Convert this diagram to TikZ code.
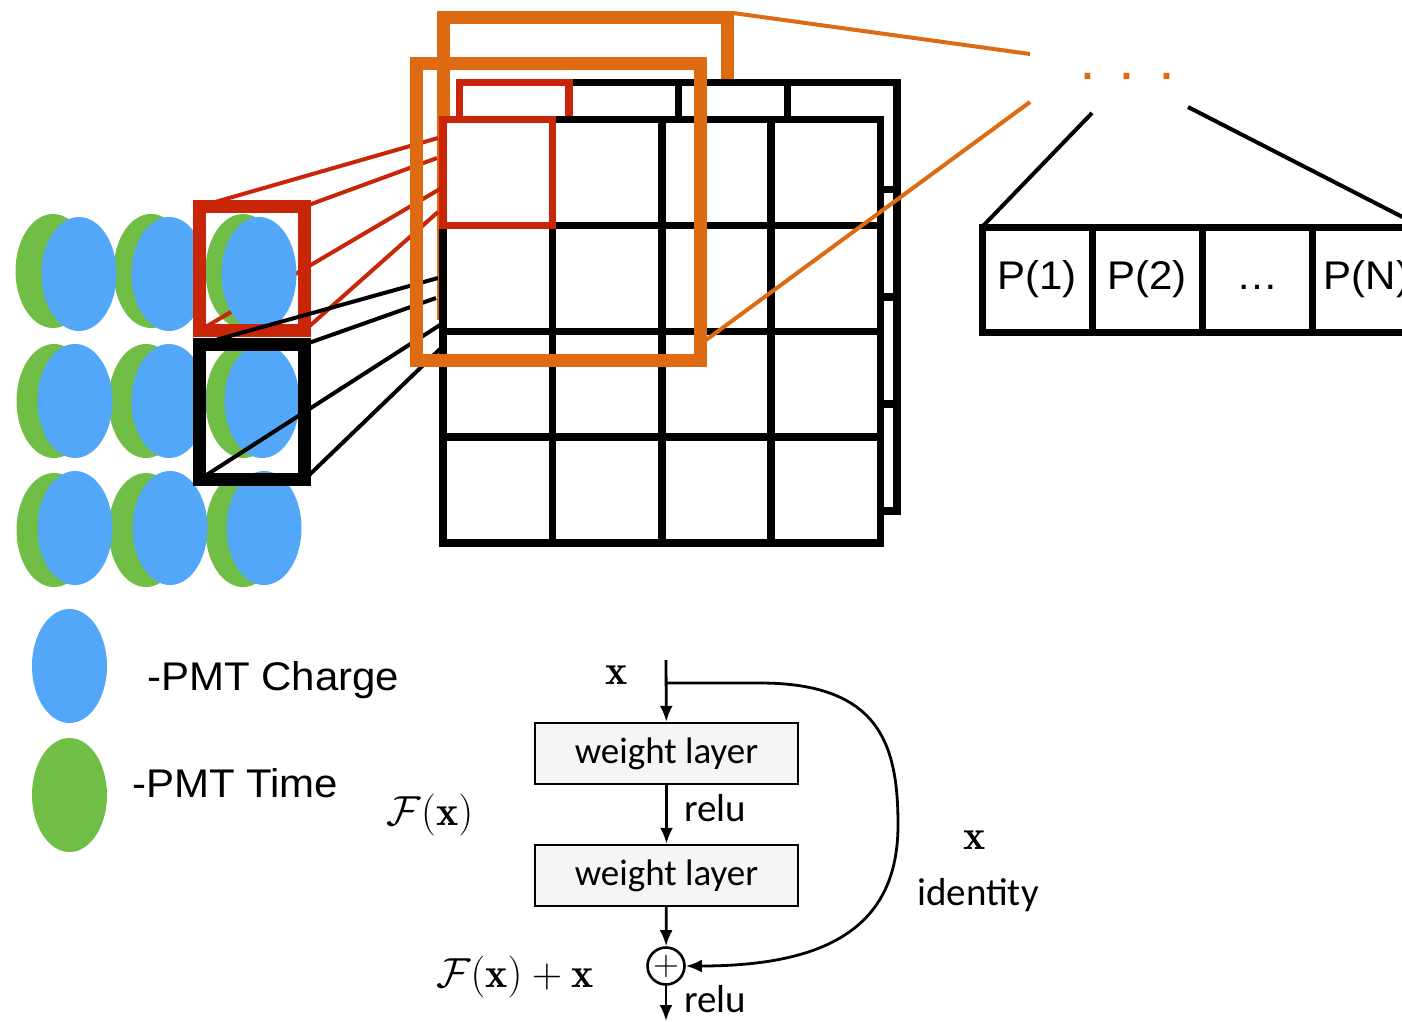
\RequirePackage{fix-cm}
\documentclass[tikz,border=0pt]{standalone}
\usepackage{fontspec}
\newfontfamily\helv{Liberation Sans}[FakeStretch=1.05]
\newfontfamily\cali{Carlito}
\usetikzlibrary{shapes,arrows}
\usetikzlibrary{arrows.meta}
\usetikzlibrary{positioning}
\definecolor{pmtblue}{RGB}{82,167,248}
\definecolor{pmtgreen}{RGB}{112,190,69}
\definecolor{cellred}{RGB}{200,37,9}
\definecolor{zoomorange}{RGB}{222,107,18}
\tikzstyle{line} = [draw, line width=2.8pt, -{Latex[length=16pt,width=13pt]}]
\tikzstyle{ray} = [draw, line width=4pt]
\tikzstyle{fmap} = [draw, line width=7.5pt]
\tikzstyle{zoombox} = [draw=zoomorange, line width=13pt]
\tikzstyle{inbox} = [line width=13pt]
\tikzstyle{prob} = [draw, line width=7pt, minimum width=110pt, minimum height=105pt, outer sep=0pt, font=\helv\fontsize{40}{48}\selectfont]
\tikzstyle{wlayer} = [draw, line width=2.4pt, fill=gray!8, minimum width=263pt, minimum height=61pt, font=\cali\fontsize{37}{44}\selectfont]
\tikzstyle{calilabel} = [font=\cali\fontsize{39}{44}\selectfont]
\tikzstyle{mathlabel} = [font=\fontsize{42}{50}\selectfont]
\def\pmts{79/274/53/271, 169/274/151/271, 259/274/243/271, 75/401/54/401, 169/401/146/401, 262/401/243/401, 75/528/54/530, 170/528/146/530, 264/528/243/530}

\begin{document}
\begin{tikzpicture}[x=1pt, y=-1pt]
    \useasboundingbox (0,0) rectangle (1402,1021);
    \clip (0,0) rectangle (1402,1021);

    \draw[zoombox] (443.5,17.5) rectangle (727,313.5);
    \filldraw[fmap, fill=white] (459.5,82.5) rectangle (897,511);
    \foreach \i in {1,2,3} {
        \draw[fmap] (459.5+\i*109.375,82.5) -- ++(0,428.5);
        \draw[fmap] (459.5,82.5+\i*107.125) -- ++(437.5,0);
    }
    \draw[fmap, draw=cellred] (459.5,82.5) rectangle ++(109.375,107.125);

    \filldraw[fmap, fill=white] (443,119.5) rectangle (880.5,543);
    \foreach \i in {1,2,3} {
        \draw[fmap] (443+\i*109.375,119.5) -- ++(0,423.5);
        \draw[fmap] (443,119.5+\i*105.875) -- ++(437.5,0);
    }
    \draw[fmap, draw=cellred] (443,119.5) rectangle ++(109.375,105.875);

    \node[minimum width=105pt, minimum height=124pt, outer sep=0pt, inner sep=0pt] (rsq) at (252,268.5) {};
    \node[minimum width=105pt, minimum height=135pt, outer sep=0pt, inner sep=0pt] (bsq) at (252,412) {};

    \coordinate (rt1) at (438,138);
    \coordinate (rt2) at (437,158);
    \coordinate (rt3) at (445,186);
    \coordinate (rt4) at (438,212);
    \coordinate (bt1) at (438,278);
    \coordinate (bt2) at (436,298);
    \coordinate (bt3) at (440,325);
    \coordinate (bt4) at (440,349);

    \foreach \bx/\by/\gx/\gy in \pmts
        \fill[pmtgreen] (\gx,\gy) ellipse [x radius=37.5pt, y radius=57pt];

    \path [ray, cellred] (rsq.north west) edge (rt1) {};
    \path [ray, cellred] (rsq.north east) edge (rt2) {};
    \path [ray, cellred] (rsq.south west) edge (rt3) {};
    \path [ray, cellred] (rsq.south east) edge (rt4) {};

    \foreach \bx/\by/\gx/\gy in \pmts
        \fill[pmtblue] (\bx,\by) ellipse [x radius=37.5pt, y radius=57pt];

    \draw[inbox, cellred] (rsq.north west) rectangle (rsq.south east);
    \draw[inbox] (bsq.north west) rectangle (bsq.south east);

    \path [ray] (bsq.north west) edge (bt1) {};
    \path [ray] (bsq.north east) edge (bt2) {};
    \path [ray] (bsq.south west) edge (bt3) {};
    \path [ray] (bsq.south east) edge (bt4) {};

    \draw[zoombox] (416.5,63.5) rectangle (700.5,360.5);

    \node[text=zoomorange, font=\helv\fontsize{58}{60}\selectfont, inner sep=0pt] (dots) at (1127,76) {. . .};
    \coordinate (oa) at (733,13);
    \coordinate (ob) at (706,340);
    \coordinate (oc) at (1030,54);
    \coordinate (od) at (1030,102);
    \path [ray, zoomorange] (oa) edge (oc) {};
    \path [ray, zoomorange] (ob) edge (od) {};

    \node[prob] (p1) at (1037,279.5) {P(1)};
    \node[prob, right=0pt of p1] (p2) {P(2)};
    \node[prob, right=0pt of p2] (p3) {\vphantom{P()}…};
    \node[prob, right=0pt of p3] (pn) {P(N)};
    \coordinate (pa) at (1092,113);
    \coordinate (pb) at (1188,107);
    \path [ray] (pa) edge (p1.north west) {};
    \path [ray] (pb) edge (pn.north east) {};

    \fill[pmtblue] (69.5,666) ellipse [x radius=37.5pt, y radius=57pt];
    \fill[pmtgreen] (69.5,795) ellipse [x radius=37.5pt, y radius=57pt];
    \node[anchor=base west, inner sep=0pt, font=\helv\fontsize{40}{48}\selectfont] (lcharge) at (147,690) {-PMT Charge};
    \node[anchor=base west, inner sep=0pt, font=\helv\fontsize{40}{48}\selectfont] (ltime) at (132,797) {-PMT Time};

    \node[wlayer] (wl1) at (666.5,753.5) {weight layer};
    \node[wlayer] (wl2) at (666.5,875.5) {weight layer};
    \node[circle, draw, line width=2.6pt, minimum size=37pt, inner sep=0pt] (plus) at (666,966) {\fontsize{36}{36}\selectfont$+$};
    \coordinate (xin) at (666,660);
    \coordinate (split) at (666,683);
    \coordinate (xout) at (666,1021);

    \path [line] (xin) -- (wl1);
    \path [line] (wl1) -- (wl2);
    \path [line] (wl2) -- (plus);
    \path [line] (plus) -- (xout);
    \path [line] (split) -- (760,683) .. controls (880,683) and (898,745) .. (898,825) .. controls (898,925) and (830,966) .. (plus.east);

    \node[calilabel, anchor=base west, inner sep=0pt] (relu1) at (684,821) {relu};
    \node[calilabel, anchor=base west, inner sep=0pt] (relu2) at (684,1012) {relu};
    \node[mathlabel] (xtop) at (617,675) {$\mathbf{x}$};
    \node[mathlabel] (fx) at (430,815) {$\mathcal{F}(\mathbf{x})$};
    \node[mathlabel] (xid) at (975,840) {$\mathbf{x}$};
    \node[calilabel] (ident) at (978,895) {identity};
    \node[mathlabel] (fxx) at (515,977) {$\mathcal{F}(\mathbf{x}) + \mathbf{x}$};
\end{tikzpicture}
\end{document}
